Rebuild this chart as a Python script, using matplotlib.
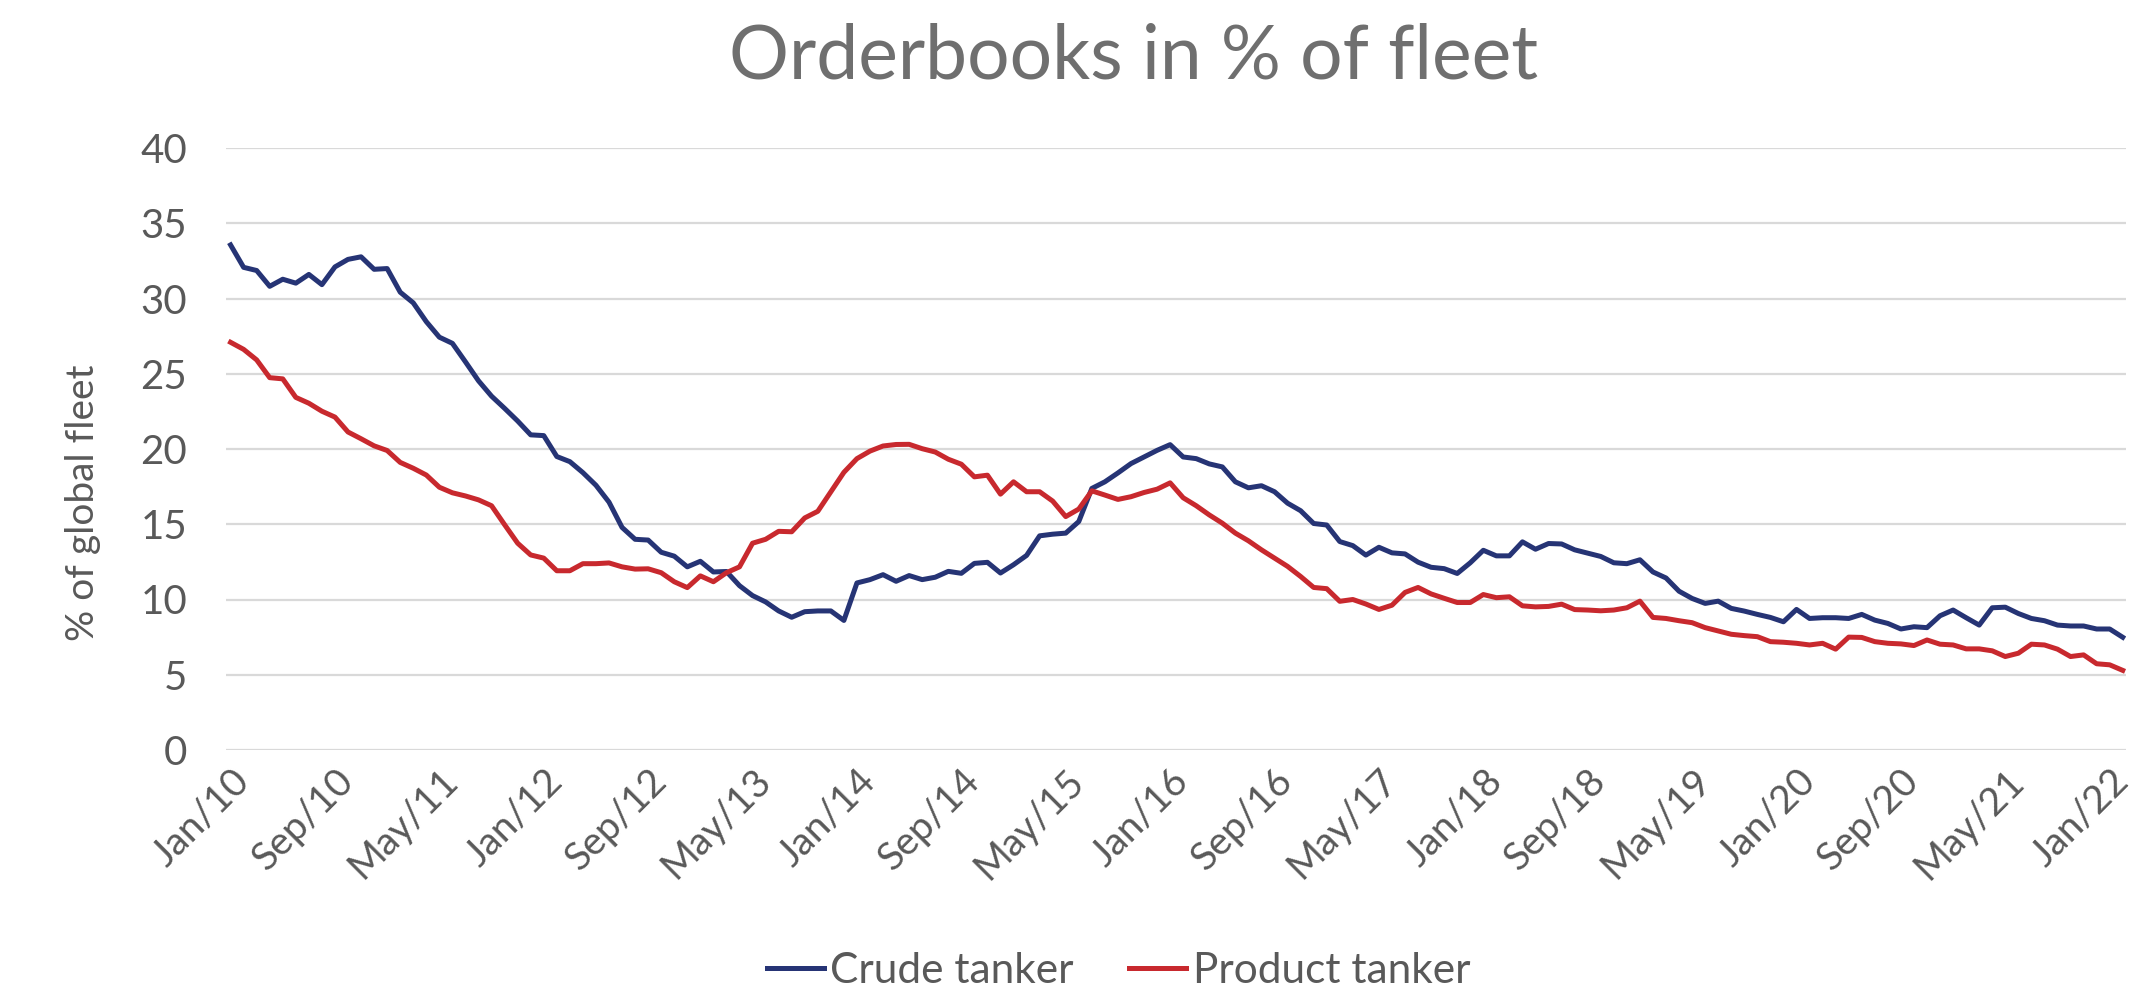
import numpy as np
import matplotlib
matplotlib.use("Agg")
import matplotlib.pyplot as plt

plt.rcParams['font.family'] = ['Lato', 'DejaVu Sans']

# monthly orderbook, % of fleet, Jan/10 .. Feb/22
crude = [33.56, 32.07, 31.86, 30.81, 31.28, 31.02, 31.6, 30.92, 32.1, 32.6,
         32.77, 31.94, 31.99, 30.42, 29.71, 28.46, 27.43, 27.02, 25.79, 24.53,
         23.51, 22.7, 21.86, 20.94, 20.89, 19.5, 19.16, 18.43, 17.59, 16.47,
         14.79, 14.0, 13.95, 13.14, 12.88, 12.17, 12.54, 11.83, 11.86, 10.92,
         10.26, 9.84, 9.24, 8.82, 9.19, 9.24, 9.24, 8.61, 11.1, 11.32,
         11.65, 11.21, 11.59, 11.32, 11.48, 11.87, 11.74, 12.40, 12.47, 11.76,
         12.31, 12.93, 14.23, 14.34, 14.41, 15.18, 17.38, 17.82, 18.41, 19.03,
         19.47, 19.91, 20.29, 19.47, 19.36, 19.01, 18.81, 17.82, 17.42, 17.56,
         17.16, 16.4, 15.9, 15.05, 14.95, 13.85, 13.58, 12.95, 13.47, 13.1,
         13.03, 12.48, 12.14, 12.05, 11.73, 12.44, 13.27, 12.9, 12.9, 13.83,
         13.34, 13.72, 13.69, 13.3, 13.08, 12.86, 12.44, 12.38, 12.64, 11.83,
         11.43, 10.55, 10.07, 9.74, 9.89, 9.41, 9.23, 9.01, 8.81, 8.52,
         9.34, 8.74, 8.79, 8.79, 8.74, 9.01, 8.63, 8.41, 8.04, 8.19,
         8.13, 8.92, 9.30, 8.79, 8.30, 9.45, 9.49, 9.07, 8.74, 8.59,
         8.30, 8.24, 8.24, 8.04, 8.04, 7.49]

product = [27.09, 26.62, 25.92, 24.74, 24.66, 23.43, 23.04, 22.51, 22.12, 21.13,
           20.68, 20.21, 19.9, 19.11, 18.72, 18.27, 17.46, 17.09, 16.88, 16.62,
           16.23, 14.97, 13.74, 12.96, 12.75, 11.91, 11.91, 12.38, 12.38, 12.43,
           12.17, 12.02, 12.04, 11.78, 11.18, 10.79, 11.57, 11.18, 11.78, 12.17,
           13.74, 14.0, 14.53, 14.5, 15.42, 15.86, 17.16, 18.45, 19.36, 19.86,
           20.2, 20.3, 20.31, 20.02, 19.80, 19.32, 18.99, 18.15, 18.26, 17.0,
           17.82, 17.16, 17.16, 16.54, 15.51, 16.01, 17.22, 16.94, 16.65, 16.83,
           17.11, 17.33, 17.75, 16.76, 16.23, 15.62, 15.07, 14.41, 13.90, 13.30,
           12.75, 12.2, 11.53, 10.8, 10.72, 9.88, 10.0, 9.7, 9.34, 9.62,
           10.47, 10.8, 10.37, 10.08, 9.8, 9.8, 10.33, 10.12, 10.18, 9.58,
           9.51, 9.54, 9.69, 9.33, 9.30, 9.25, 9.30, 9.45, 9.89, 8.81,
           8.74, 8.59, 8.46, 8.13, 7.91, 7.69, 7.60, 7.53, 7.20, 7.16,
           7.09, 6.98, 7.09, 6.70, 7.5, 7.48, 7.20, 7.09, 7.05, 6.94,
           7.31, 7.03, 6.98, 6.72, 6.72, 6.59, 6.21, 6.43, 7.03, 6.98,
           6.70, 6.21, 6.32, 5.73, 5.66, 5.29]

tick_labels = ["Jan/10", "Sep/10", "May/11", "Jan/12", "Sep/12", "May/13",
               "Jan/14", "Sep/14", "May/15", "Jan/16", "Sep/16", "May/17",
               "Jan/18", "Sep/18", "May/19", "Jan/20", "Sep/20", "May/21",
               "Jan/22"]

months = np.arange(len(crude))
text_col = "#595959"

fig = plt.figure(figsize=(21.51, 9.9), dpi=100)
ax = fig.add_axes([226 / 2151, 240 / 990, 1900 / 2151, 602 / 990])

ax.plot(months, crude, color="#263475", lw=3.6, label="Crude tanker")
ax.plot(months, product, color="#c8292e", lw=3.6, label="Product tanker")

ax.set_xlim(-0.35, 145.25)
ax.set_ylim(0, 40)
ax.set_yticks(range(0, 41, 5))
ax.set_xticks(np.arange(0, 145, 8))
ax.set_xticklabels(tick_labels, rotation=45, ha="right", va="top",
                   rotation_mode="anchor")
ax.tick_params(axis="y", length=0, pad=28, labelsize=29, labelcolor=text_col)
ax.tick_params(axis="x", length=0, pad=9, labelsize=28, labelcolor=text_col)

ax.grid(axis="y", color="#d9d9d9", lw=1.6)
ax.set_axisbelow(True)
for s in ax.spines.values():
    s.set_visible(False)

ax.set_ylabel("% of global fleet", fontsize=28, color=text_col)
ax.yaxis.set_label_coords(-0.066, 0.41)

fig.text(0.527, 0.942, "Orderbooks in % of fleet", fontsize=54,
         color="#6f6f6f", ha="center", va="center")

fig.legend(loc="center", bbox_to_anchor=(0.520, 0.019), ncol=2,
           frameon=False, fontsize=30.5, handlelength=1.35, handletextpad=0.15,
           columnspacing=1.3, labelcolor=text_col)

fig.savefig("out.png", dpi=100)
